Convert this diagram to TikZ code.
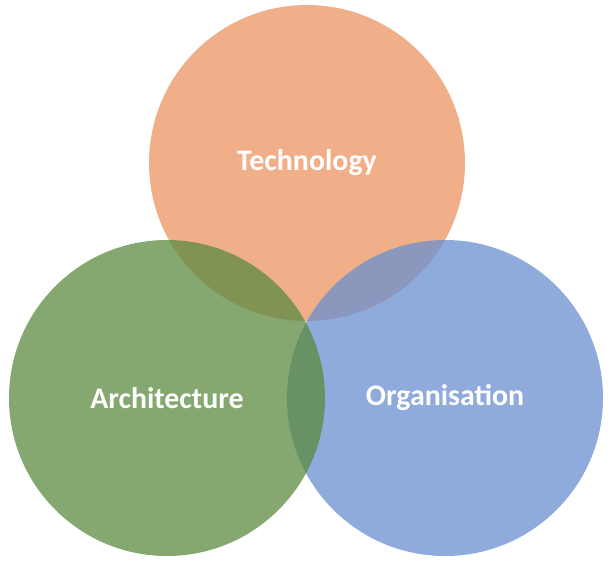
\documentclass[tikz,border=0pt]{standalone}
\usepackage{fontspec}
\setmainfont{Carlito}
\usepackage{tikz}
\usetikzlibrary{
    shapes.geometric,
    positioning
}
\definecolor{techorange}{HTML}{EC9462}
\definecolor{orgblue}{HTML}{6A8FD0}
\definecolor{archgreen}{HTML}{5B8B3F}
\tikzset{
    area/.style = {
        circle,
        minimum size=63.2mm,
        inner sep=0pt,
        fill opacity=0.75,
        text opacity=1,
        text=white,
        font=\bfseries\fontsize{17}{20}\selectfont,
        align=center
    },
    techarea/.style = {
        area,
        fill=techorange
    },
    orgarea/.style = {
        area,
        fill=orgblue
    },
    archarea/.style = {
        area,
        fill=archgreen
    }
}

\begin{document}
\begin{tikzpicture}[x=0.2mm,y=-0.2mm]
\useasboundingbox (0,0) rectangle (615,565);
\node[techarea] (tech) at (307,163) {Technology};
\node[orgarea] (org) at (445,398) {Organisation};
\node[archarea] (arch) at (167,398) {Architecture};
\end{tikzpicture}
\end{document}
